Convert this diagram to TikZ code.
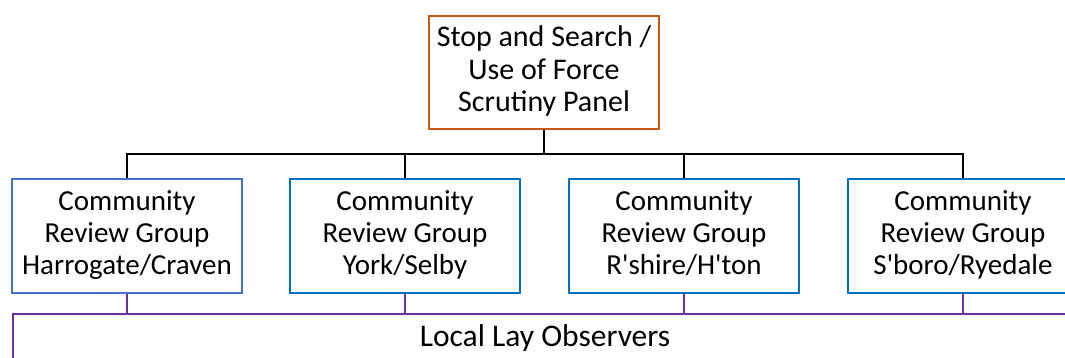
\documentclass[tikz,border=0pt]{standalone}
\usepackage{fontspec}
\setmainfont{Carlito}
\usetikzlibrary{positioning}
\definecolor{panelorange}{HTML}{C55A11}
\definecolor{crglight}{HTML}{4472C4}
\definecolor{crgblue}{HTML}{0070C0}
\definecolor{laypurple}{HTML}{7030A0}

\begin{document}
\begin{tikzpicture}[x=1pt,y=-1pt,
  every node/.style={font=\fontsize{29}{32}\selectfont},
  panel/.style={draw=panelorange,line width=2.5pt,align=center,minimum width=230pt,minimum height=113pt,inner sep=0pt,font=\fontsize{30}{32.5}\selectfont},
  crg/.style={draw=crgblue,line width=2.5pt,align=center,minimum width=230pt,minimum height=114pt,inner sep=0pt},
  tree/.style={line width=2.5pt},
  laybox/.style={draw=laypurple,line width=2pt,minimum width=1064pt,minimum height=90pt,inner sep=0pt},
  laylink/.style={draw=laypurple,line width=1.3pt}]
\useasboundingbox (0,0) rectangle (1065,357);
\clip (0,0) rectangle (1065,357);
% panel and groups
\node[panel] (panel) at (544,72.5) {\strut Stop and Search /\\Use of Force\\Scrutiny Panel\strut};
\node[crg,draw=crglight] (hc) at (127,236) {\strut Community\\Review Group\\Harrogate/Craven\strut};
\node[crg] (ys) at (405,236) {\strut Community\\Review Group\\York/Selby\strut};
\node[crg] (rh) at (684,236) {\strut Community\\Review Group\\R\textquotesingle shire/H\textquotesingle ton\strut};
\node[crg] (sr) at (963,236) {\strut Community\\Review Group\\S\textquotesingle boro/Ryedale\strut};
% tree lines
\coordinate (bus) at (0,154);
\draw[tree] (panel.south) -- (panel.south |- bus);
\draw[tree] (hc.north) -- (hc.north |- bus) -- (sr.north |- bus) -- (sr.north);
\foreach \g in {ys,rh} \draw[tree] (\g.north) -- (\g.north |- bus);
% lay observers
\node[laybox,anchor=north west] (lay) at (12,313) {};
\node[anchor=base,font=\fontsize{31.5}{34}\selectfont] (laytext) at (lay.north |- 0,346) {Local Lay Observers};
\foreach \g in {hc,ys,rh,sr} \draw[laylink] (\g.south) -- (\g.south |- lay.north);
\end{tikzpicture}
\end{document}
